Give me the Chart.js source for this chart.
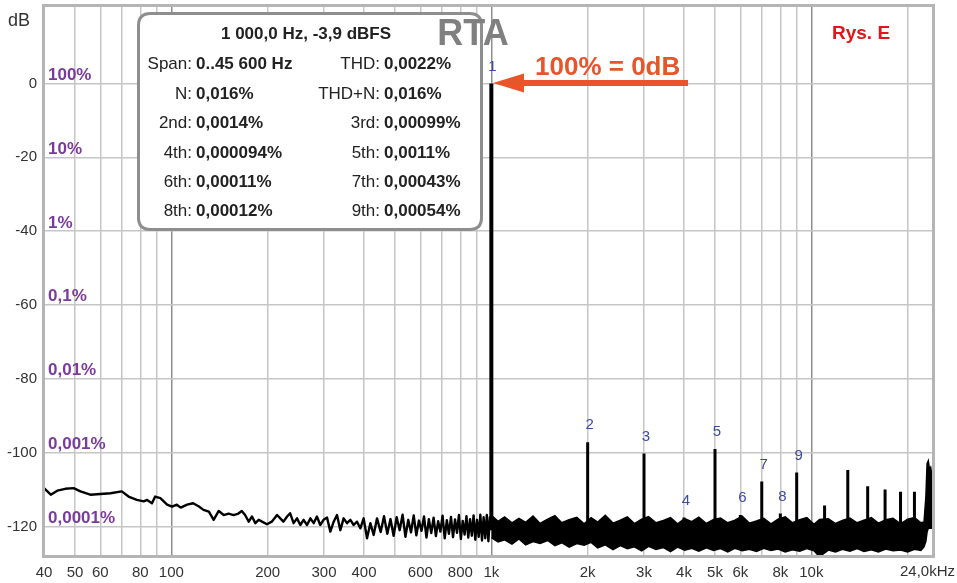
<!DOCTYPE html>
<html><head><meta charset="utf-8">
<script src="https://cdn.jsdelivr.net/npm/chart.js@4.4.1/dist/chart.umd.min.js"></script>
<style>html,body{margin:0;padding:0;background:#fff;}#wrap{width:957px;height:583px;position:relative;}</style>
</head><body><div id="wrap"><canvas id="c" width="957" height="583"></canvas></div>
<script>
// ---- axes ----
const gridFreqs = [40,50,60,70,80,90,100,200,300,400,500,600,700,800,900,1000,2000,3000,4000,5000,6000,7000,8000,9000,10000,20000,24000];
const freqLabels = {40:'40',50:'50',60:'60',80:'80',100:'100',200:'200',300:'300',400:'400',600:'600',800:'800',1000:'1k',2000:'2k',3000:'3k',4000:'4k',5000:'5k',6000:'6k',8000:'8k',10000:'10k'};
const endLabel = '24,0kHz';
const dbTicks = [-120,-100,-80,-60,-40,-20,0];
const pctLabels = ['0,0001%','0,001%','0,01%','0,1%','1%','10%','100%'];

// ---- spectrum: low-frequency trace (Hz, dB) ----
const lowFreq = [40,42,44,46.6,49.5,52,55.8,60,64.5,70,
 73.5,78,82,84,87,89,92.4,97,100.5,104,
 107,112,117,122,126,131,135.6,140.6,145.8,151,
 156.5,162,166,170,174.5,178.7,183,187.5,192,199,
 206,214,219,224,230,235,241,247,253,259,
 265.5,272,278.5,285,292,299,306.6,314,321.6,329.4,
 337.4,345.5,354,362.6,371.4,380.4,389.6,399,408.8,418.7,
 428.8,439.3,451,462,473,484,495,506,517,528,
 539,550,561,572,583,594,605,616,627,638,
 649,660,671,682,693,704,715,726,737,748,
 759,770,781,792,803,814,825,836,847,858,
 869,880,891,902,913,924,935,946,957,968,
 979,990];
const lowDb = [-109.6,-111.4,-110.3,-109.8,-109.6,-110.5,-111.4,-111.2,-111.0,-110.5,
 -111.9,-112.8,-113.2,-112.8,-113.7,-111.9,-112.3,-114.1,-114.6,-114.1,
 -114.9,-114.1,-113.7,-114.6,-115.5,-116.0,-118.2,-115.8,-116.9,-116.5,
 -116.9,-116.5,-115.8,-116.9,-118.7,-117.3,-119.1,-118.2,-118.7,-119.4,
 -118.7,-116.9,-117.8,-118.7,-117.3,-116.4,-119.1,-117.8,-119.6,-118.2,
 -119.6,-117.8,-119.1,-117.3,-119.6,-118.2,-117.6,-121.4,-118.7,-116.9,
 -121.0,-117.8,-119.1,-118.2,-119.6,-118.7,-120.5,-117.8,-123.2,-119.1,
 -122.3,-117.8,-121.5,-117.2,-122.0,-118.0,-122.5,-117.5,-121.0,-116.8,
 -122.8,-118.2,-121.6,-117.0,-122.4,-118.4,-121.2,-117.3,-123.0,-118.0,
 -121.8,-117.6,-122.6,-118.6,-121.4,-117.1,-123.2,-118.3,-122.0,-117.4,
 -122.9,-118.1,-121.7,-116.9,-123.4,-118.5,-122.2,-117.2,-123.0,-118.0,
 -122.5,-117.0,-123.6,-118.2,-122.8,-116.8,-123.8,-117.5,-123.2,-116.9,
 -124.0,-117.3];

// ---- spectrum: noise band above 1 kHz (Hz, upper dB, lower dB) ----
const bandFreq = [1000,1050,1100,1160,1220,1280,1350,1420,1500,1580,
 1660,1750,1850,1950,2050,2150,2270,2400,2530,2660,
 2800,2950,3100,3270,3450,3630,3820,4020,4230,4450,
 4700,4950,5200,5480,5770,6080,6400,6740,7100,7480,
 7870,8290,8730,9200,9680,10200,10600,11300,11900,12500,
 13200,13900,14600,15400,16200,17100,18000,19000,20000,21000,
 22000,22500,22800,23000,23200,23400,23600,23800,24000];
const bandTop = [-117.0,-118.6,-117.4,-119.0,-117.8,-118.9,-117.2,-119.2,-118.0,-117.1,
 -119.0,-118.2,-117.5,-119.3,-117.6,-118.8,-117.0,-119.1,-118.3,-117.4,
 -119.2,-118.0,-117.3,-119.0,-118.4,-117.6,-119.3,-117.9,-118.7,-117.5,
 -119.2,-118.1,-117.7,-119.0,-118.3,-117.2,-119.1,-118.5,-117.8,-119.3,
 -118.0,-117.4,-119.0,-118.2,-117.6,-119.4,-118.1,-117.9,-119.2,-118.4,
 -117.7,-119.0,-118.3,-117.6,-119.1,-118.2,-117.8,-119.3,-118.0,-117.6,
 -119.0,-118.8,-112.0,-103.0,-102.2,-104.5,-104.0,-106.0,-118.0];
const bandBottom = [-123.0,-124.2,-123.6,-124.8,-123.4,-125.0,-124.1,-124.6,-123.8,-125.2,
 -124.4,-125.6,-124.6,-125.1,-124.3,-125.8,-125.0,-126.3,-125.2,-126.0,
 -125.5,-126.6,-125.4,-126.2,-125.7,-126.8,-125.6,-126.4,-125.9,-126.7,
 -125.8,-126.5,-126.0,-126.9,-125.9,-126.6,-126.2,-126.8,-125.9,-126.5,
 -126.1,-126.9,-126.3,-126.7,-126.0,-126.6,-128.2,-126.4,-126.9,-126.2,
 -126.7,-126.0,-126.8,-126.3,-126.9,-126.1,-126.6,-126.4,-126.9,-126.2,
 -126.5,-125.5,-124.0,-121.5,-120.5,-120.5,-120.5,-120.5,-120.0];

// ---- peaks ----
const fundFreq = 1000, fundDb = 0;
const harmFreq = [2000,3000,4000,5000,6000,7000,8000,9000];
const harmDb = [-97.2,-100.2,-117.6,-99.0,-116.9,-107.8,-116.5,-105.4];
const harmNames = ['2','3','4','5','6','7','8','9'];
const hiFreq = [11000,13000,15000,17000,19000,21000];
const hiDb = [-114.3,-104.7,-109.1,-110.0,-110.6,-110.6];
const peakBaseDb = -121;

// ---- info box text ----
const boxTitle = '1 000,0 Hz, -3,9 dBFS';
const boxRows = [
 ['Span:','0..45 600 Hz','THD:','0,0022%'],
 ['N:','0,016%','THD+N:','0,016%'],
 ['2nd:','0,0014%','3rd:','0,00099%'],
 ['4th:','0,000094%','5th:','0,0011%'],
 ['6th:','0,00011%','7th:','0,00043%'],
 ['8th:','0,00012%','9th:','0,00054%']];

const pts = (xs, ys) => xs.map((f,i)=>({x:f,y:ys[i]}));
function stems(fs, ds){const o=[];fs.forEach((f,i)=>{o.push({x:f,y:peakBaseDb},{x:f,y:ds[i]},{x:f,y:null});});return o;}

const FONT = '"Liberation Sans", Arial, sans-serif';

const overlay = {
 id:'overlay',
 afterDatasetsDraw(chart){
  const {ctx, chartArea:a, scales:{x,y}} = chart;
  ctx.save();
  // frame
  ctx.strokeStyle='#b5b5b5'; ctx.lineWidth=3;
  ctx.strokeRect(a.left-0.5, a.top-0.5, a.right-a.left+1, a.bottom-a.top+1);
  // percent labels
  ctx.font='bold 17px '+FONT; ctx.fillStyle='#7b3b9c'; ctx.textAlign='left'; ctx.textBaseline='alphabetic';
  dbTicks.forEach((d,i)=>ctx.fillText(pctLabels[i], a.left+4, y.getPixelForValue(d)-3.5));
  // harmonic numbers
  ctx.font='15px '+FONT; ctx.fillStyle='#3d4aa0'; ctx.textAlign='center'; ctx.textBaseline='middle';
  ctx.fillText('1', x.getPixelForValue(fundFreq)+1, y.getPixelForValue(fundDb)-17);
  harmFreq.forEach((f,i)=>ctx.fillText(harmNames[i], x.getPixelForValue(f)+2, y.getPixelForValue(harmDb[i])-17));
  // info box
  const bx=138.5, by=13.5, bw=343, bh=216, r=12;
  ctx.beginPath();
  ctx.moveTo(bx+r,by); ctx.lineTo(bx+bw-r,by); ctx.quadraticCurveTo(bx+bw,by,bx+bw,by+r);
  ctx.lineTo(bx+bw,by+bh-r); ctx.quadraticCurveTo(bx+bw,by+bh,bx+bw-r,by+bh);
  ctx.lineTo(bx+r,by+bh); ctx.quadraticCurveTo(bx,by+bh,bx,by+bh-r);
  ctx.lineTo(bx,by+r); ctx.quadraticCurveTo(bx,by,bx+r,by); ctx.closePath();
  ctx.fillStyle='#fff'; ctx.fill(); ctx.strokeStyle='#8e8e8e'; ctx.lineWidth=3; ctx.stroke();
  ctx.fillStyle='#222'; ctx.textBaseline='alphabetic';
  ctx.font='bold 17px '+FONT; ctx.textAlign='center'; ctx.fillText(boxTitle, 306, 39);
  const rowY=[68.5,98.5,128,157.5,187,216];
  boxRows.forEach((row,i)=>{
   ctx.font='17px '+FONT; ctx.textAlign='right';
   ctx.fillText(row[0],192,rowY[i]); ctx.fillText(row[2],380,rowY[i]);
   ctx.font='bold 17px '+FONT; ctx.textAlign='left';
   ctx.fillText(row[1],196,rowY[i]); ctx.fillText(row[3],384,rowY[i]);
  });
  // RTA
  ctx.font='bold 36px '+FONT; ctx.fillStyle='#808080'; ctx.textAlign='center';
  ctx.fillText('RTA', 473, 45);
  // arrow
  const ac='#e8552b';
  ctx.strokeStyle=ac; ctx.fillStyle=ac; ctx.lineWidth=6;
  ctx.beginPath(); ctx.moveTo(688,83); ctx.lineTo(518,83); ctx.stroke();
  ctx.beginPath(); ctx.moveTo(493,83); ctx.lineTo(524,73.5); ctx.lineTo(524,92.5); ctx.closePath(); ctx.fill();
  ctx.font='bold 26px '+FONT; ctx.textAlign='left'; ctx.fillText('100% = 0dB', 535, 75);
  // Rys. E
  ctx.fillStyle='#fff'; ctx.fillRect(826,16,80,28);
  ctx.font='bold 19px '+FONT; ctx.fillStyle='#e3141b'; ctx.fillText('Rys. E', 832, 39);
  // dB label
  ctx.font='18px '+FONT; ctx.fillStyle='#333'; ctx.fillText('dB', 8, 26);
  // end label of x axis
  ctx.font='15px '+FONT; ctx.textAlign='right'; ctx.textBaseline='middle';
  ctx.fillText(endLabel, 955, a.bottom+15.5);
  ctx.restore();
 }
};

new Chart(document.getElementById('c'), {
 type:'line',
 data:{datasets:[
  {data:stems([fundFreq],[fundDb]), borderColor:'#000', borderWidth:4, pointRadius:0, spanGaps:false, order:0, borderCapStyle:'butt'},
  {data:stems(harmFreq.concat(hiFreq), harmDb.concat(hiDb)), borderColor:'#000', borderWidth:3, pointRadius:0, spanGaps:false, order:1, borderCapStyle:'butt'},
  {data:pts(lowFreq,lowDb), borderColor:'#000', borderWidth:2.4, pointRadius:0, fill:false, order:2, borderJoinStyle:'round'},
  {data:pts(bandFreq,bandBottom), borderColor:'#000', borderWidth:1.5, pointRadius:0, fill:false, order:3},
  {data:pts(bandFreq,bandTop), borderColor:'#000', borderWidth:1.5, pointRadius:0, fill:'-1', backgroundColor:'#000', order:3}
 ]},
 options:{
  responsive:false, animation:false, devicePixelRatio:1,
  layout:{padding:{top:6,right:24,bottom:0,left:0}},
  plugins:{legend:{display:false}, tooltip:{enabled:false}},
  elements:{line:{tension:0}},
  scales:{
   x:{type:'logarithmic', min:40, max:24000,
    afterBuildTicks:(s)=>{s.ticks=gridFreqs.map(v=>({value:v}));},
    afterFit:(s)=>{s.height=27; s.paddingLeft=0; s.paddingRight=0;},
    ticks:{autoSkip:false, maxRotation:0, padding:8, color:'#333', font:{family:FONT,size:15}, callback:(v)=>freqLabels[v] ?? ''},
    grid:{drawTicks:false, lineWidth:1.5, color:(c)=>(c.tick && [100,1000,10000].includes(c.tick.value))?'#8e8e8e':'#c6c6c6'},
    border:{display:false}},
   y:{type:'linear', min:-128, max:21,
    afterBuildTicks:(s)=>{s.ticks=dbTicks.map(v=>({value:v}));},
    afterFit:(s)=>{s.width=44; s.paddingTop=0; s.paddingBottom=0;},
    ticks:{padding:7, color:'#333', font:{family:FONT,size:15}, callback:(v)=>String(v)},
    grid:{drawTicks:false, lineWidth:1.5, color:'#c6c6c6'},
    border:{display:false}}
  }
 },
 plugins:[overlay]
});
</script></body></html>
